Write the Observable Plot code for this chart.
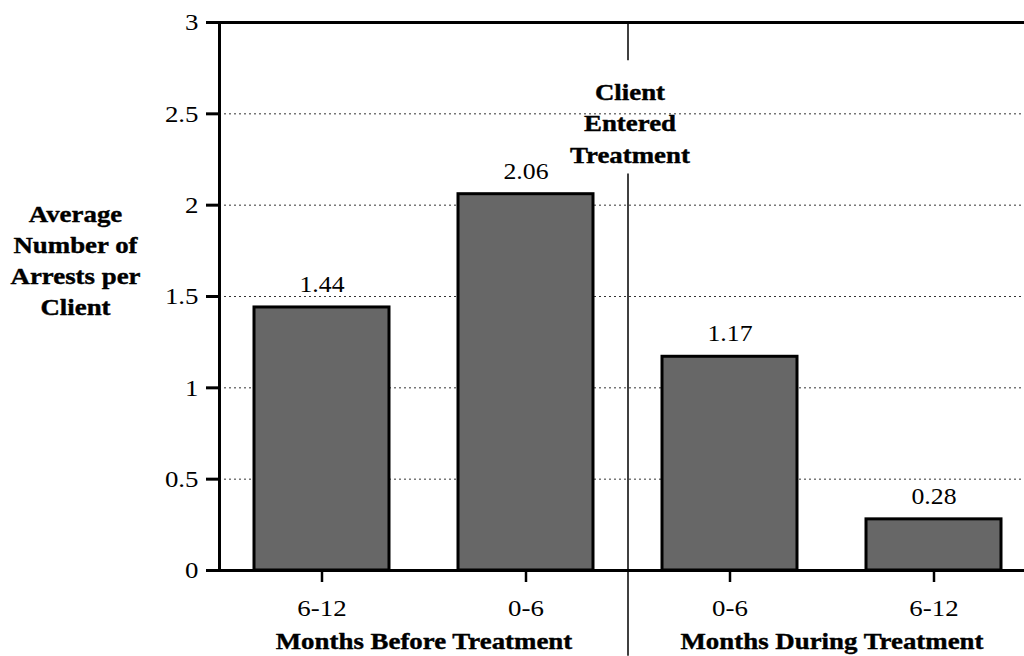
<!DOCTYPE html>
<html>
<head>
<meta charset="utf-8">
<script src="https://cdn.jsdelivr.net/npm/d3@7"></script>
<script src="https://cdn.jsdelivr.net/npm/@observablehq/plot@0.6"></script>
<style>
  html, body { margin: 0; padding: 0; background: #fff; overflow: hidden; }
  #chart { width: 1024px; height: 656px; overflow: hidden; }
  #chart svg { max-width: none !important; }
</style>
</head>
<body>
<div id="chart"></div>
<script>
// Average number of arrests per client, by six-month period
const periods = ["6-12", "0-6", "0-6", "6-12"];
const phases = ["Before", "Before", "During", "During"];
const arrests = [1.44, 2.06, 1.17, 0.28];
const phaseLabels = ["Months Before Treatment", "Months During Treatment"];
const yTicks = [0, 0.5, 1, 1.5, 2, 2.5, 3];
const yTitle = "Average\nNumber of\nArrests per\nClient";
const eventLabel = "Client\nEntered\nTreatment";

const data = periods.map((p, i) => ({key: phases[i] + " " + p, period: p, phase: phases[i], value: arrests[i]}));
const keys = data.map(d => d.key);
const periodOf = new Map(data.map(d => [d.key, d.period]));
// first band of each phase; its label sits halfway to the next band
const phaseStarts = [keys[0], keys[2]];
const phaseTable = phaseLabels.map((label, i) => ({key: phaseStarts[i], label}));

const width = 1040, height = 656;
const marginLeft = 219, marginRight = 5, marginTop = 22, marginBottom = 86;
const step = (width - marginLeft - marginRight) / keys.length;

const serif = "Liberation Serif, Times New Roman, serif";
const fs = 24;
const stretch = 1.12;

const chart = Plot.plot({
  width, height, marginLeft, marginRight, marginTop, marginBottom,
  style: {fontFamily: serif, fontSize: fs + "px", background: "white", color: "black", overflow: "visible"},
  x: {domain: keys, paddingInner: 0.34, paddingOuter: 0.17, align: 0.5},
  y: {domain: [0, 3]},
  marks: [
    Plot.gridY(yTicks.filter(t => t > 0 && t < 3), {stroke: "#333", strokeOpacity: 1, strokeWidth: 1, strokeDasharray: "2,3"}),
    Plot.barY(data, {x: "key", y: "value", fill: "#676767", stroke: "black", strokeWidth: 3}),
    Plot.text(data, {x: "key", y: "value", text: d => d.value.toFixed(2), dy: -23, fontSize: fs - 1, fill: "black"}),
    Plot.axisY({ticks: yTicks, tickFormat: d => String(d), tickSize: 13, tickPadding: 8, strokeWidth: 3, fontSize: fs, label: null}),
    Plot.axisX({tickFormat: k => periodOf.get(k), tickSize: 12, tickPadding: 16, strokeWidth: 2.5, fontSize: fs, label: null}),
    Plot.ruleY([0, 3], {stroke: "black", strokeWidth: 3}),
    // left axis line
    Plot.frame({anchor: "left", stroke: "black", strokeWidth: 3}),
    // divider between the two phases, interrupted by its label
    Plot.ruleX([keys[1]], {x: d => d, dx: step / 2, y1: 3, y2: 2.79, stroke: "black", strokeWidth: 1.5}),
    Plot.ruleX([keys[1]], {x: d => d, dx: step / 2, y1: 2.17, y2: -0.47, stroke: "black", strokeWidth: 1.5, clip: false}),
    Plot.text([eventLabel], {x: () => keys[1], text: d => d, dx: step / 2 + 2, frameAnchor: "top", lineAnchor: "middle", dy: 99, lineHeight: 1.3, fontWeight: "bold", fontSize: fs, fill: "black", stroke: "black", strokeWidth: 0.4}),
    Plot.text(phaseTable, {x: "key", text: "label", dx: step / 2, frameAnchor: "bottom", lineAnchor: "middle", dy: 71, fontWeight: "bold", fontSize: fs, fill: "black", stroke: "black", strokeWidth: 0.4}),
    Plot.text([yTitle], {text: d => d, frameAnchor: "left", lineAnchor: "middle", dx: -144, dy: -38, textAnchor: "middle", lineHeight: 1.3, fontWeight: "bold", fontSize: fs, fill: "black", stroke: "black", strokeWidth: 0.4})
  ]
});
chart.style.maxWidth = "none";

// widen the glyphs horizontally around each label's anchor
chart.querySelectorAll("text").forEach(t => {
  const x = +t.getAttribute("x") || 0, y = +t.getAttribute("y") || 0;
  let tr = t.getAttribute("transform") || "";
  if (x || y) { tr = `translate(${x},${y}) ` + tr; t.removeAttribute("x"); t.removeAttribute("y"); }
  t.setAttribute("transform", (tr + ` scale(${stretch},1)`).trim());
});

document.getElementById("chart").appendChild(chart);
</script>
</body>
</html>
